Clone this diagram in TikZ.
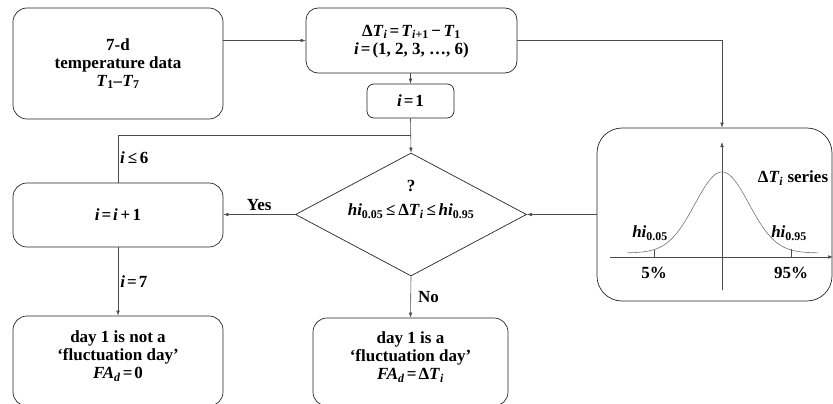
\documentclass[tikz,border=0pt]{standalone}
\usepackage{fontspec}
\setmainfont{Liberation Serif}
\usetikzlibrary{arrows.meta,shapes.geometric}
\newcommand\ivar[1]{\textit{#1}}
\newcommand\sbs[1]{\textsubscript{#1}}
\newcommand\eqs{\hspace{0.12em}=\hspace{0.12em}}
\begin{document}
\begin{tikzpicture}[x=1pt,y=-1pt,
  every node/.style={font=\bfseries\fontsize{17}{18}\selectfont, text=black},
  box/.style={draw=black!85, line width=0.7pt, rounded corners=14pt, align=center, inner sep=0pt},
  ln/.style={draw=black!70, line width=0.6pt},
  arr/.style={ln, -{Latex[length=5pt,width=3.6pt]}},
  lbl/.style={inner sep=1pt}]
\useasboundingbox (0,0) rectangle (833,404);
% boxes
\node[box, minimum width=210pt, minimum height=111pt] (A) at (118,63.5)
  {7-d\\temperature data\\\ivar{T}\sbs{1}–\ivar{T}\sbs{7}};
\node[box, rounded corners=12pt, minimum width=211pt, minimum height=65pt] (B) at (411.5,40.5) {};
\node[align=center] (Bt) at (411.5,41.5)
  {Δ\ivar{T}\sbs{\ivar{i}}\eqs\ivar{T}\sbs{\ivar{i}+1}\hspace{0.15em}−\hspace{0.15em}\ivar{T}\sbs{1}\\\ivar{i}\eqs(1, 2, 3, …, 6)};
\node[box, rounded corners=7pt, minimum width=87pt, minimum height=34pt] (I1) at (410.5,101) {\ivar{i}\eqs1};
\node[draw=black!85, line width=0.7pt, diamond, minimum width=231pt, minimum height=123pt, inner sep=0pt] (D) at (411,214.5) {};
\node (Dq) at (411,186) {?};
\node (Dt) at (411,211) {\ivar{hi}\sbs{0.05}\,≤\,Δ\ivar{T}\sbs{\ivar{i}}\,≤\,\ivar{hi}\sbs{0.95}};
\node[box, minimum width=210pt, minimum height=64pt] (II) at (118,215) {\ivar{i}\eqs\ivar{i}\hspace{0.15em}+\hspace{0.15em}1};
\node[box, minimum width=210pt, minimum height=90pt] (BL) at (118,361) {};
\node[align=center] (BLt) at (118,356)
  {day 1 is not a\\‘fluctuation day’\\\ivar{FA}\sbs{\ivar{d}}\eqs0};
\node[box, minimum width=195pt, minimum height=88pt] (BM) at (410.5,362) {};
\node[align=center] (BMt) at (410.5,357)
  {day 1 is a\\‘fluctuation day’\\\ivar{FA}\sbs{\ivar{d}}\eqs Δ\ivar{T}\sbs{\ivar{i}}};
\node[box, rounded corners=25pt, minimum width=235pt, minimum height=173pt] (R) at (714.5,214.5) {};
% distribution inside R
\coordinate (O) at (722,257);
\coordinate (Ytop) at (722,142);
\coordinate (Ybot) at (722,290);
\coordinate (Xl) at (610,257);
\coordinate (Xr) at (833,257);
\draw[arr] (Ybot) -- (Ytop);
\draw[arr] (Xl) -- (Xr);
\draw[draw=black!55, line width=0.6pt] plot[domain=627:818, samples=120, smooth] (\x, {253-81*exp(-((\x-722)^2)/1458)});
\coordinate (t1) at (654,257);
\coordinate (t2) at (791,257);
\draw[ln] (t1) -- ++(0,-7);
\draw[ln] (t2) -- ++(0,-8);
\node (ser) at (793,178) {Δ\ivar{T}\sbs{\ivar{i}} series};
\node (h1) at (650,233) {\ivar{hi}\sbs{0.05}};
\node (h2) at (789,233) {\ivar{hi}\sbs{0.95}};
\node (p1) at (654,273) {5\%};
\node (p2) at (791,273) {95\%};
% connectors
\draw[arr] (A.east |- B.west) -- (B.west);
\draw[arr] (I1.north |- B.south) -- (I1.north);
\draw[arr] (I1.south) -- (D.north);
\coordinate (lp) at (I1.south |- 0,135);
\draw[ln] (II.north) |- (lp);
\node[lbl, anchor=west] (l6) at (119,158) {\ivar{i}\,≤\,6};
\draw[arr] (D.west) -- (D.west -| II.east) node[lbl, midway, above=3pt] (yes) {Yes};
\draw[arr] (II.south) -- (BL.north) node[lbl, midway, right=1pt] (l7) {\ivar{i}\eqs7};
\draw[arr] (D.south) -- (BM.north) node[lbl, midway, right=6pt] (no) {No};
\draw[arr] (B.east) -| (R.north -| O);
\draw[arr] (R.west) -- (D.east);
\end{tikzpicture}
\end{document}
